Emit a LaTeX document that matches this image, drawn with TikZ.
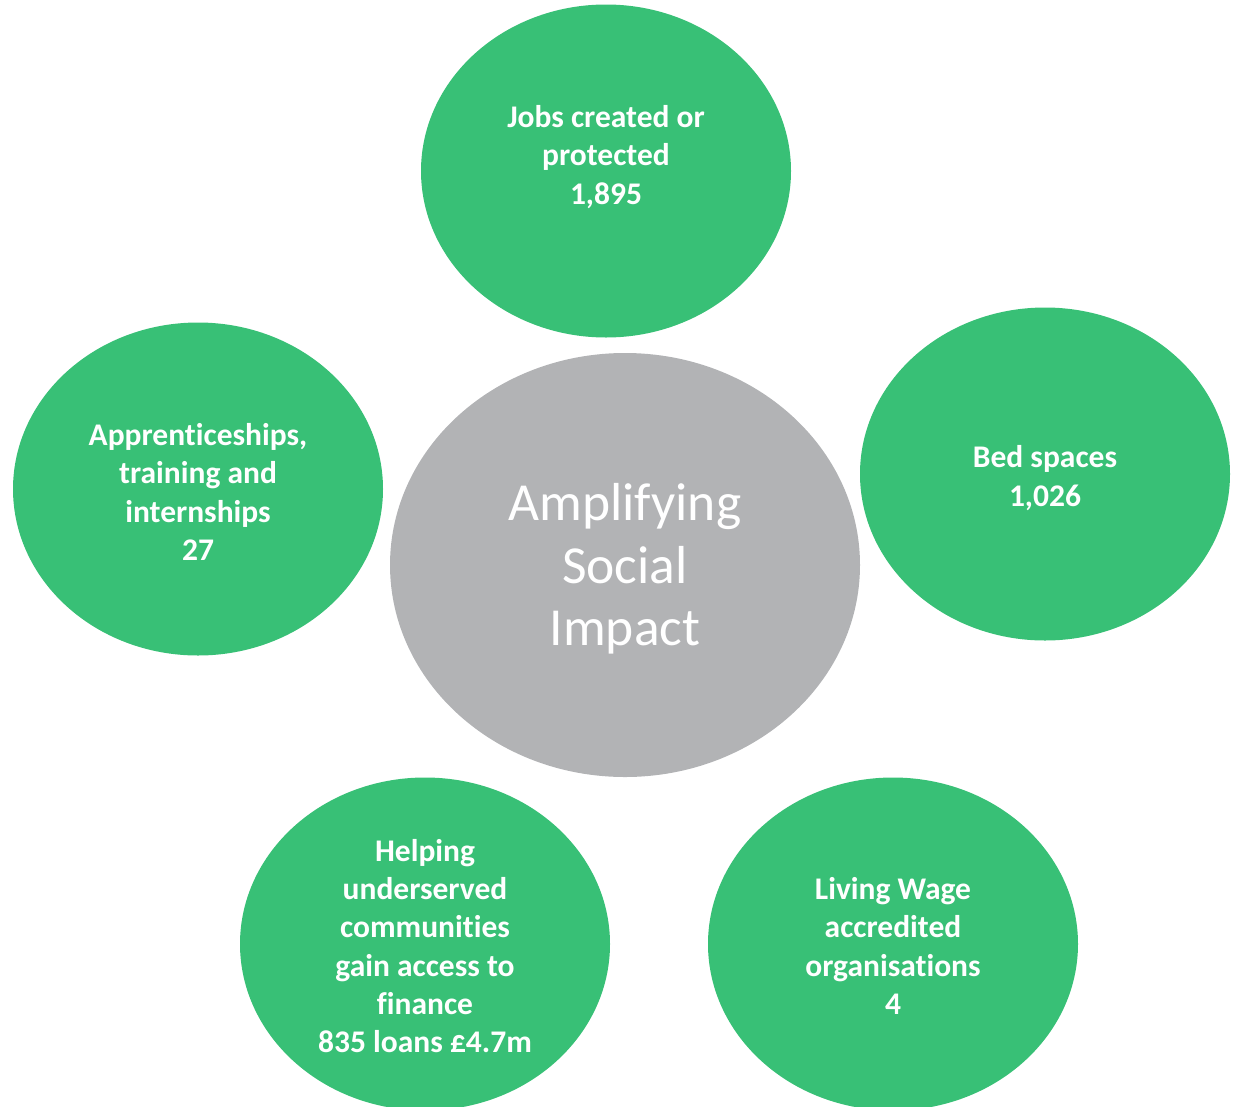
\documentclass[tikz,border=0pt]{standalone}
\usepackage{fontspec}
\setmainfont{Carlito}[RawFeature=-liga]
\usetikzlibrary{shapes.geometric}
\definecolor{bubblegreen}{RGB}{56,192,118}
\definecolor{hubgray}{RGB}{178,179,181}
\begin{document}
\begin{tikzpicture}[x=1pt,y=-1pt,
  bubble/.style={ellipse, fill=bubblegreen, draw=none, inner sep=0pt,
    minimum width=370pt, minimum height=333pt},
  hub/.style={ellipse, fill=hubgray, draw=none, inner sep=0pt,
    minimum width=470pt, minimum height=424pt},
  label/.style={text=white, align=center, inner sep=0pt,
    font=\bfseries\fontsize{31.5}{38.3}\selectfont},
  hublabel/.style={text=white, align=center, inner sep=0pt,
    font=\fontsize{53.5}{62.5}\selectfont}]
\useasboundingbox (0,0) rectangle (1234,1106);
\clip (0,0) rectangle (1234,1106);
% outer bubbles
\node[bubble] (jobs) at (606,171) {};
\node[bubble] (appr) at (198,489) {};
\node[bubble] (beds) at (1045,474) {};
\node[bubble] (loans) at (425,944) {};
\node[bubble] (wage) at (893,944) {};
% central hub
\node[hub] (hub) at (625,565) {};
% texts
\node[label] (jobst) at (606,157) {Jobs created or\\protected\\1,895};
\node[label] (apprt) at (198,492) {Apprenticeships,\\training and\\internships\\27};
\node[label] (bedst) at (1045,478) {Bed spaces\\1,026};
\node[label] (loanst) at (425,946) {Helping\\underserved\\communities\\gain access to\\finance\\835 loans £4.7m};
\node[label] (waget) at (893,946) {Living Wage\\accredited\\organisations\\4};
\node[hublabel] (hubt) at (625,569) {Amplifying\\Social\\Impact};
\end{tikzpicture}
\end{document}
